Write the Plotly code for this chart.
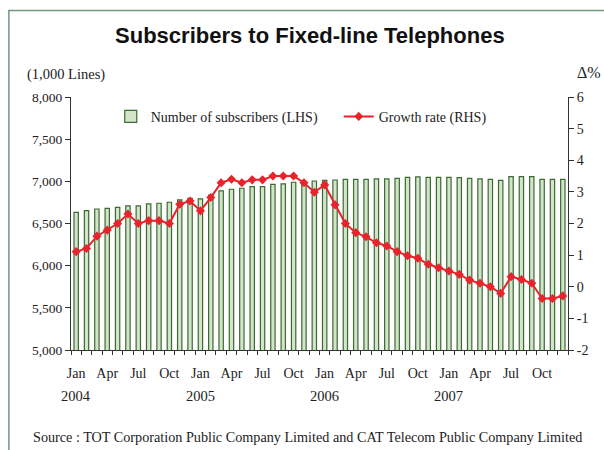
import plotly.graph_objects as go

# Monthly data, Jan 2004 - Dec 2007
years = ["2004", "2005", "2006", "2007"]
month_names = ["Jan", "Feb", "Mar", "Apr", "May", "Jun",
               "Jul", "Aug", "Sep", "Oct", "Nov", "Dec"]
months = [f"{m} {y}" for y in years for m in month_names]

# Number of subscribers (1,000 lines)
subscribers = [
    6633, 6652, 6672, 6680, 6692, 6708, 6708, 6732, 6740, 6752, 6779, 6799,
    6791, 6838, 6886, 6906, 6918, 6937, 6937, 6965, 6969, 6989, 6985, 7004,
    7012, 7016, 7024, 7024, 7024, 7028, 7028, 7036, 7048, 7052, 7048, 7048,
    7048, 7044, 7036, 7028, 7024, 7012, 7056, 7056, 7056, 7024, 7024, 7024,
]

# Year-on-year growth rate (%)
growth = [
    1.11, 1.21, 1.60, 1.79, 2.00, 2.30, 2.00, 2.09, 2.09, 2.00, 2.61, 2.71,
    2.40, 2.82, 3.29, 3.40, 3.29, 3.38, 3.38, 3.50, 3.50, 3.50, 3.29, 2.99,
    3.22, 2.59, 2.00, 1.71, 1.58, 1.39, 1.29, 1.11, 0.98, 0.90, 0.71, 0.60,
    0.50, 0.39, 0.21, 0.11, 0.00, -0.21, 0.32, 0.23, 0.11, -0.37, -0.37, -0.29,
]

left_ticks = [5000, 5500, 6000, 6500, 7000, 7500, 8000]
right_ticks = list(range(-2, 7))

x = list(range(len(months)))
label_idx = [i for i in x if i % 3 == 0]
label_text = [months[i].split()[0] for i in label_idx]

SERIF = "Liberation Serif, Times New Roman, serif"
BAR_FILL = "#d3e4c9"
BAR_EDGE = "#3b6a33"
RED = "#e8232b"

fig = go.Figure()

fig.add_trace(go.Bar(
    x=x, y=subscribers, name="Number of subscribers (LHS)",
    marker=dict(color=BAR_FILL, line=dict(color=BAR_EDGE, width=1.2)),
    width=0.42, yaxis="y",
))

fig.add_trace(go.Scatter(
    x=x, y=growth, name="Growth rate (RHS)", mode="lines+markers",
    line=dict(color=RED, width=2),
    marker=dict(symbol="diamond", size=7, color=RED),
    yaxis="y2",
))

fig.update_layout(
    width=604, height=450,
    margin=dict(l=71, r=36, t=97, b=100),
    paper_bgcolor="white", plot_bgcolor="white",
    font=dict(family=SERIF, size=13, color="#222"),
    bargap=0.5,
    showlegend=True,
    legend=dict(
        orientation="h", x=0.08, y=0.985, xanchor="left", yanchor="top",
        font=dict(family=SERIF, size=14, color="#222"),
        bgcolor="rgba(0,0,0,0)", itemwidth=30, tracegroupgap=0,
        entrywidth=183, entrywidthmode="pixels",
    ),
    title=dict(
        text="<b>Subscribers to Fixed-line Telephones</b>",
        x=0.513, xanchor="center", y=0.922, yanchor="middle",
        font=dict(family="Liberation Sans Narrow, Arial Narrow, Liberation Sans, sans-serif",
                  size=22, color="#111"),
    ),
    xaxis=dict(
        range=[-0.5, len(x) - 0.5],
        tickmode="array", tickvals=label_idx, ticktext=label_text,
        ticks="", showline=True, linecolor="#333", linewidth=1,
        showgrid=False, zeroline=False, ticklabelstandoff=10,
        tickfont=dict(family=SERIF, size=14, color="#222"),
        minor=dict(tickvals=[i - 0.5 for i in range(len(x) + 1)],
                   ticks="outside", ticklen=4, tickcolor="#333", showgrid=False),
    ),
    yaxis=dict(
        range=[5000, 8000], tickvals=left_ticks,
        ticktext=[f"{v:,}" for v in left_ticks],
        ticks="outside", ticklen=5, tickcolor="#333",
        showline=True, linecolor="#333", linewidth=1,
        showgrid=False, zeroline=False,
        tickfont=dict(family=SERIF, size=13.5, color="#222"),
    ),
    yaxis2=dict(
        range=[-2, 6], tickvals=right_ticks,
        ticktext=[str(v) for v in right_ticks],
        overlaying="y", side="right",
        ticks="outside", ticklen=5, tickcolor="#333",
        showline=True, linecolor="#333", linewidth=1,
        showgrid=False, zeroline=False,
        tickfont=dict(family=SERIF, size=14, color="#222"),
    ),
)

# Year labels beneath the January ticks
for k, yr in enumerate(years):
    fig.add_annotation(
        x=k * 12, y=-0.183, xref="x", yref="paper", text=yr, showarrow=False,
        font=dict(family=SERIF, size=14.5, color="#222"),
        xanchor="center", yanchor="middle",
    )

# Axis unit captions
fig.add_annotation(x=-0.092, y=1.09, xref="paper", yref="paper",
                   text="(1,000 Lines)", showarrow=False, xanchor="left",
                   yanchor="middle", font=dict(family=SERIF, size=14.5, color="#222"))
fig.add_annotation(x=1.042, y=1.095, xref="paper", yref="paper",
                   text="Δ%", showarrow=False, xanchor="center",
                   yanchor="middle", font=dict(family=SERIF, size=16, color="#222"))

# Source note
fig.add_annotation(x=0.476, y=-0.345, xref="paper", yref="paper",
                   text="Source : TOT Corporation Public Company Limited and CAT Telecom Public Company Limited",
                   showarrow=False, xanchor="center", yanchor="middle",
                   font=dict(family=SERIF, size=14.2, color="#222"))

# Outer frame
fig.add_shape(type="rect", xref="paper", yref="paper",
              x0=-0.125, x1=1.08, y0=-0.41, y1=1.342,
              line=dict(color="#6f9a80", width=1.5), fillcolor="rgba(0,0,0,0)")

fig.write_html("out.html")
